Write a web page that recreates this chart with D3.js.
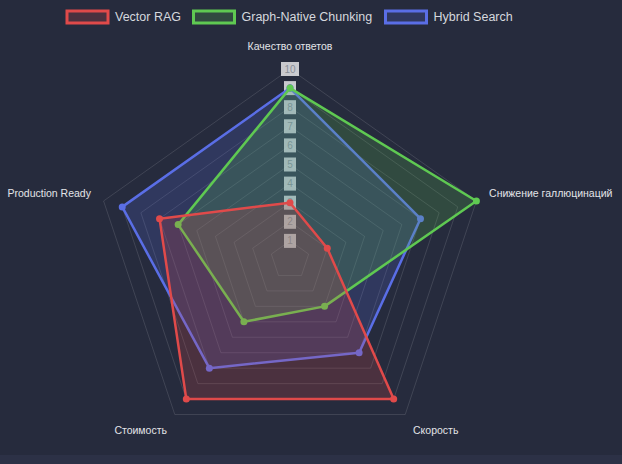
<!DOCTYPE html>
<html>
<head>
<meta charset="utf-8">
<script src="https://cdn.jsdelivr.net/npm/d3@7"></script>
<style>
  html, body { margin: 0; padding: 0; background: #2c3146; }
  svg { display: block; }
</style>
</head>
<body>
<svg id="chart" width="622" height="464"></svg>
<script>
// axes of the radar
var axes = ["Качество ответов", "Снижение галлюцинаций", "Скорость", "Стоимость", "Production Ready"];
var tickValues = [1, 2, 3, 4, 5, 6, 7, 8, 9, 10];

var seriesNames = ["Vector RAG", "Graph-Native Chunking", "Hybrid Search"];
var vectorRag = [3, 2, 9, 9, 7];
var graphNative = [9, 10, 3, 4, 6];
var hybridSearch = [9, 7, 6, 7, 9];
var seriesColors = ["#e04a4a", "#5fc952", "#5a6ee6"];

var series = [
  {name: seriesNames[0], values: vectorRag, color: seriesColors[0]},
  {name: seriesNames[1], values: graphNative, color: seriesColors[1]},
  {name: seriesNames[2], values: hybridSearch, color: seriesColors[2]}
];

var svg = d3.select("#chart");
var W = 622, H = 464;

svg.append("rect").attr("width", W).attr("height", 455).attr("fill", "#262b3d");

var cx = 290, cy = 260;
// radial scales (picture is slightly wider than tall)
var rx = d3.scaleLinear().domain([0, 10]).range([0, 196]);
var ry = d3.scaleLinear().domain([0, 10]).range([0, 191]);
var angle = d3.scaleLinear().domain([0, axes.length]).range([0, 2 * Math.PI]);

function px(i, v) { return cx + rx(v) * Math.sin(angle(i)); }
function py(i, v) { return cy - ry(v) * Math.cos(angle(i)); }

var g = svg.append("g");

// grid pentagons
g.selectAll("polygon.grid")
  .data(tickValues)
  .enter()
  .append("polygon")
    .attr("class", "grid")
    .attr("points", function(t) {
      return axes.map(function(a, i) { return px(i, t) + "," + py(i, t); }).join(" ");
    })
    .attr("fill", "none")
    .attr("stroke", "rgba(255,255,255,0.12)")
    .attr("stroke-width", 1);

// tick labels with backdrop
var tk = g.selectAll("g.tick")
  .data(tickValues)
  .enter()
  .append("g")
    .attr("transform", function(t) { return "translate(" + cx + "," + py(0, t) + ")"; });
tk.append("rect")
  .attr("x", function(t) { return t < 10 ? -6 : -9; })
  .attr("y", -7)
  .attr("width", function(t) { return t < 10 ? 12 : 18; })
  .attr("height", 14)
  .attr("fill", "rgba(255,255,255,0.75)");
tk.append("text")
  .attr("text-anchor", "middle")
  .attr("dy", "0.35em")
  .attr("font-family", "Liberation Sans, Arial, sans-serif")
  .attr("font-size", 10)
  .attr("fill", "#8a8f98")
  .text(function(t) { return t; });

// point labels
g.selectAll("text.axis")
  .data(axes)
  .enter()
  .append("text")
    .attr("class", "axis")
    .attr("x", function(d, i) { return px(i, 10) + Math.sin(angle(i)) * 13.3; })
    .attr("y", function(d, i) { return py(i, 10) - Math.cos(angle(i)) * 21 - 1.5; })
    .attr("dy", "0.35em")
    .attr("text-anchor", function(d, i) {
      var s = Math.sin(angle(i));
      return Math.abs(s) < 0.1 ? "middle" : (s > 0 ? "start" : "end");
    })
    .attr("font-family", "Liberation Sans, Arial, sans-serif")
    .attr("font-size", 10.5)
    .attr("fill", "#e2e4e8")
    .text(function(d) { return d; });

// datasets, last one drawn first
var line = d3.line()
  .x(function(d, i) { return px(i, d); })
  .y(function(d, i) { return py(i, d); })
  .curve(d3.curveLinearClosed);

var ds = g.selectAll("g.ds")
  .data(series.slice().reverse())
  .enter()
  .append("g");

ds.append("path")
  .attr("d", function(s) { return line(s.values); })
  .attr("fill", function(s) { return s.color; })
  .attr("fill-opacity", 0.2)
  .attr("stroke", function(s) { return s.color; })
  .attr("stroke-width", 2.5)
  .attr("stroke-linejoin", "round");

ds.selectAll("circle")
  .data(function(s) { return s.values.map(function(v) { return {v: v, c: s.color}; }); })
  .enter()
  .append("circle")
    .attr("cx", function(d, i) { return px(i, d.v); })
    .attr("cy", function(d, i) { return py(i, d.v); })
    .attr("r", 3.5)
    .attr("fill", function(d) { return d.c; });

// legend
var legendX = [67, 193.5, 385.5];
var lg = svg.selectAll("g.legend")
  .data(series)
  .enter()
  .append("g")
    .attr("transform", function(d, i) { return "translate(" + legendX[i] + ",11)"; });
lg.append("rect")
  .attr("width", 41)
  .attr("height", 12)
  .attr("fill", function(d) { return d.color; })
  .attr("fill-opacity", 0.2)
  .attr("stroke", function(d) { return d.color; })
  .attr("stroke-width", 3);
lg.append("text")
  .attr("x", 48)
  .attr("y", 6)
  .attr("dy", "0.35em")
  .attr("font-family", "Liberation Sans, Arial, sans-serif")
  .attr("font-size", 12.5)
  .attr("fill", "#d5d8de")
  .text(function(d) { return d.name; });
</script>
</body>
</html>
